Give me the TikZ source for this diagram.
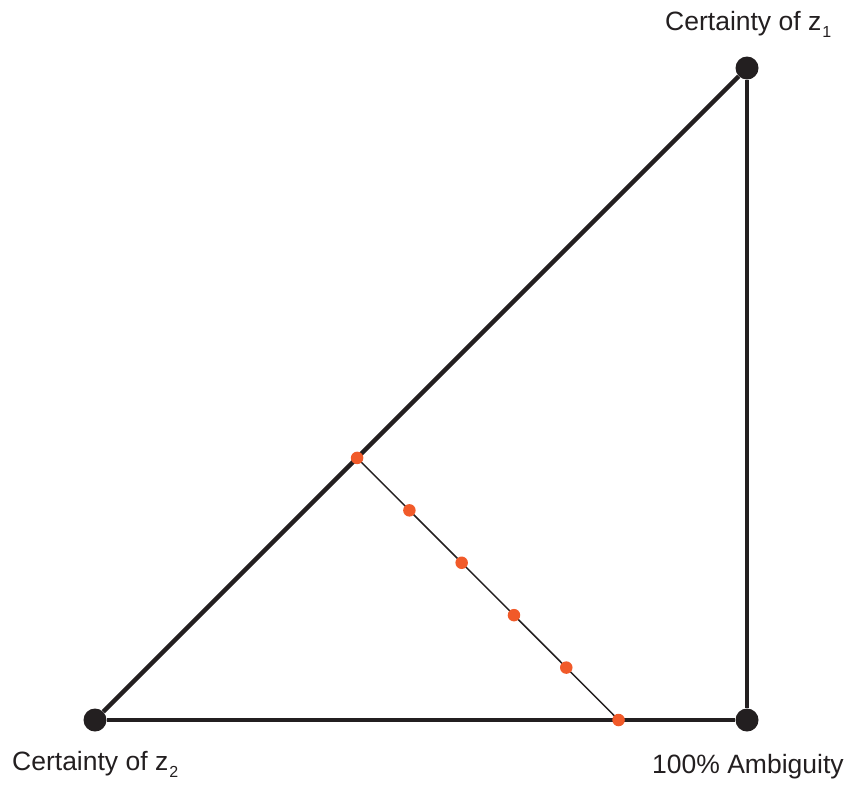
\documentclass[tikz,border=0pt]{standalone}
\usepackage{fontspec}
\setmainfont{Liberation Sans}
\usepackage{xcolor}
\usepackage{tikz}
\usetikzlibrary{calc}

\definecolor{ink}{HTML}{231F20}
\definecolor{dotorange}{HTML}{F15A29}

\newcommand{\lowsub}[1]{\kern1pt\raisebox{-7pt}{\fontsize{16}{16}\selectfont #1}}

\begin{document}
\begin{tikzpicture}[
    x=1pt, y=-1pt,
    font=\fontsize{26.5}{30}\selectfont,
    vtx/.style={circle, fill=ink, minimum size=23pt, inner sep=0pt},
    edge/.style={draw=ink, line width=4.5pt},
    slice/.style={draw=ink, line width=1.5pt},
    pt/.style={circle, fill=dotorange, minimum size=12.5pt, inner sep=0pt},
    lbl/.style={text=ink, inner sep=0pt}
  ]
    \useasboundingbox (0,0) rectangle (850,788);

    \node[vtx] (zt) at (747,68) {};
    \node[vtx] (zl) at (95,720) {};
    \node[vtx] (amb) at (747,720) {};

    \draw[edge] (zl) -- (zt);
    \draw[edge] (zt) -- (amb);
    \draw[edge] (zl) -- (amb);

    % slice of equal ambiguity
    \coordinate (p0) at ($(zl)!0.402!(zt)$);
    \coordinate (p5) at ($(zl)!0.803!(amb)$);
    \draw[slice] (p0) -- (p5);
    \node[pt] (s0) at (p0) {};
    \node[pt] (s5) at (p5) {};
    \foreach \t [count=\i] in {0.2,0.4,0.6,0.8}
      \node[pt] (s\i) at ($(p0)!\t!(p5)$) {};

    \node[lbl, anchor=base west] (ltop) at (665,30) {Certainty of z\lowsub{1}};
    \node[lbl, anchor=base west] (lleft) at (12,770) {Certainty of z\lowsub{2}};
    \node[lbl, anchor=base west] (lamb) at (652,773) {100\% Ambiguity};
  \end{tikzpicture}
\end{document}
